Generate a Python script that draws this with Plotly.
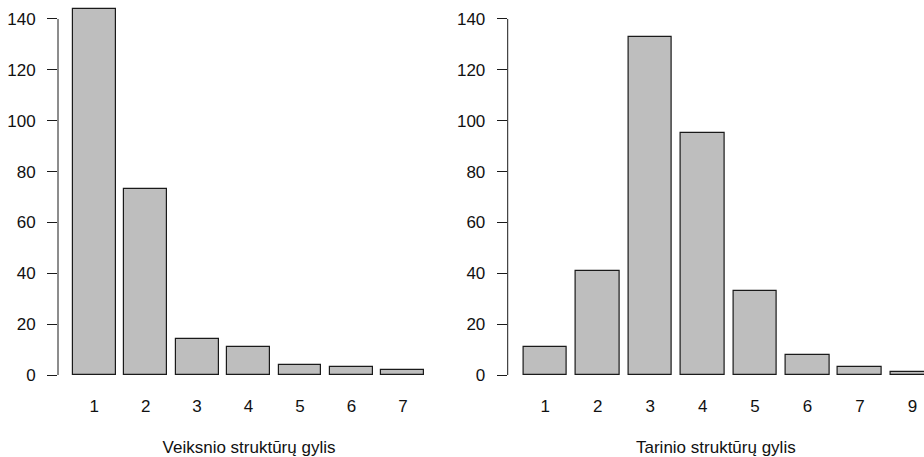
import plotly.graph_objects as go

# Veiksnio (subject) structure depth frequencies
subj_labels = ["1", "2", "3", "4", "5", "6", "7"]
subj_counts = [144, 73, 14, 11, 4, 3, 2]

# Tarinio (predicate) structure depth frequencies
pred_labels = ["1", "2", "3", "4", "5", "6", "7", "9"]
pred_counts = [11, 41, 133, 95, 33, 8, 3, 1]

W, H = 924, 457
FONT = "Liberation Sans, Arial, Helvetica, sans-serif"
FS = 17
BAR_FILL = "#bebebe"
EDGE = "#1a1a1a"

fig = go.Figure()

fig.add_trace(go.Bar(
    x=list(range(len(subj_counts))), y=subj_counts, width=0.833,
    marker=dict(color=BAR_FILL, line=dict(color=EDGE, width=1.2)),
    xaxis="x", yaxis="y", showlegend=False, hoverinfo="skip",
))
fig.add_trace(go.Bar(
    x=list(range(len(pred_counts))), y=pred_counts, width=0.833,
    marker=dict(color=BAR_FILL, line=dict(color=EDGE, width=1.2)),
    xaxis="x2", yaxis="y2", showlegend=False, hoverinfo="skip",
))

# panel geometry (pixels)
left_axis_px, left_end_px = 58, 440
right_axis_px = 507.7
y0_px = 375
px_per_unit = 2.543
ytop = y0_px / px_per_unit

left_c0, left_step = 94.2, 51.45
right_c0, right_step = 545.2, 52.47

def xr(px0, px1, c0, step):
    return [(px0 - c0) / step, (px1 - c0) / step]

ydomain = [(H - y0_px) / H, 1]

xcommon = dict(
    showline=False, showgrid=False, zeroline=False, ticks="",
    tickfont=dict(family=FONT, size=FS, color="#111"),
    ticklabelstandoff=19,
    title_font=dict(family=FONT, size=FS, color="#111"),
    title_standoff=31,
    automargin=False,
    fixedrange=True,
)
ycommon = dict(
    range=[0, ytop], domain=ydomain,
    tickvals=[0, 20, 40, 60, 80, 100, 120, 140],
    ticks="outside", ticklen=10, tickwidth=1, tickcolor=EDGE,
    showline=False, showgrid=False, zeroline=False,
    tickfont=dict(family=FONT, size=FS, color="#111"),
    ticklabelstandoff=8,
    automargin=False,
    fixedrange=True,
)

fig.update_layout(
    width=W, height=H,
    margin=dict(l=0, r=0, t=0, b=0),
    plot_bgcolor="white", paper_bgcolor="white",
    bargap=0,
    xaxis=dict(
        domain=[left_axis_px / W, left_end_px / W],
        range=xr(left_axis_px, left_end_px, left_c0, left_step),
        tickvals=list(range(len(subj_labels))), ticktext=subj_labels,
        title_text="Veiksnio struktūrų gylis",
        anchor="y", **xcommon,
    ),
    yaxis=dict(anchor="x", **ycommon),
    xaxis2=dict(
        domain=[right_axis_px / W, 1],
        range=xr(right_axis_px, W, right_c0, right_step),
        tickvals=list(range(len(pred_labels))), ticktext=pred_labels,
        title_text="Tarinio struktūrų gylis",
        anchor="y2", **xcommon,
    ),
    yaxis2=dict(anchor="x2", **ycommon),
)

# y axis spines covering only the tick span 0..140
for xpx, yref in [(left_axis_px, "y"), (right_axis_px, "y2")]:
    fig.add_shape(type="line", xref="paper", yref=yref,
                  x0=xpx / W, x1=xpx / W, y0=0, y1=140,
                  line=dict(color=EDGE, width=1))

fig.write_html("out.html")
